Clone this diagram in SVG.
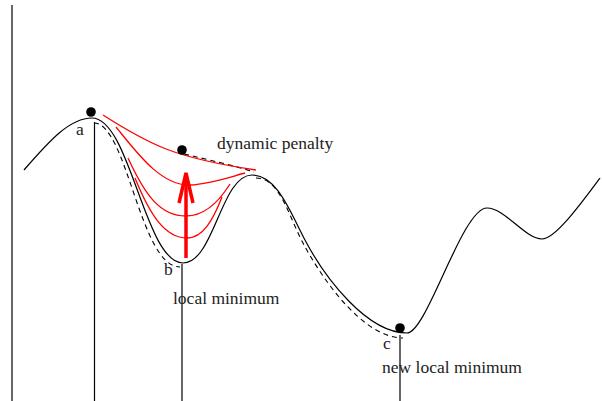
<svg xmlns="http://www.w3.org/2000/svg" width="602" height="401" viewBox="0 0 602 401">
<style>
.ln{fill:none;stroke:#000;stroke-width:1.2}
.ds{fill:none;stroke:#000;stroke-width:1.1;stroke-dasharray:5 4}
.rd{fill:none;stroke:#f00;stroke-width:1.3}
.ar{fill:none;stroke:#f00;stroke-width:3.5}
.ball{fill:#000}
text{font-family:"Liberation Serif","Times New Roman",serif;font-size:17.5px;fill:#222}
</style>
<rect width="602" height="401" fill="#fff"/>
<g id="axes">
<line class="ln" x1="12" y1="5" x2="12" y2="401"/>
<line class="ln" x1="94.5" y1="122" x2="94.5" y2="401"/>
<line class="ln" x1="182" y1="264" x2="182" y2="401"/>
<line class="ln" x1="400" y1="335" x2="400" y2="401"/>
</g>
<g id="landscape">
<path class="ln" d="M24,170 C50,140 70,118 92,118 C130,118 145,263 183,263 C214,263 221,175 252,175 C277,175 290,211.5 305,240 C325,278 367,333 407,333 C427,333 462,208 487,208 C505,208 525,239 542,239 C555,239 580,205 600,178"/>
</g>
<g id="penalized">
<path class="ds" d="M94,123 C127,123 140,267 180,267"/>
<path class="ds" d="M184,154 C210,160 235,166 254,172"/>
<path class="ds" d="M256,178 C280,178 288,215 303,243 C323,281 364,338 403,338"/>
</g>
<g id="penalty-curves">
<path class="rd" d="M103,115 C150,145 175,158 256,170"/>
<path class="rd" d="M116,127 C135,150 160,186 190,185 C210,184 230,177 245,173"/>
<path class="rd" d="M128,158 C145,195 160,216 186,216 C205,216 220,200 230,184"/>
<path class="rd" d="M135,178 C150,215 165,238 187,238 C203,238 213,220 222,197"/>
</g>
<g id="arrow">
<line class="ar" x1="186" y1="258" x2="186" y2="176"/>
<polyline class="ar" points="179,203 186,173 193,203"/>
</g>
<g id="node-a">
<circle class="ball" cx="91" cy="112" r="4.8"/>
<text x="76" y="135">a</text>
</g>
<g id="node-b">
<circle class="ball" cx="182" cy="150" r="4.8"/>
<text x="164" y="275">b</text>
<text x="173" y="304">local minimum</text>
</g>
<g id="node-c">
<circle class="ball" cx="400" cy="328" r="4.8"/>
<text x="383" y="349">c</text>
<text x="382" y="373">new local minimum</text>
</g>
<g id="label-penalty">
<text x="217" y="149">dynamic penalty</text>
</g>
</svg>
